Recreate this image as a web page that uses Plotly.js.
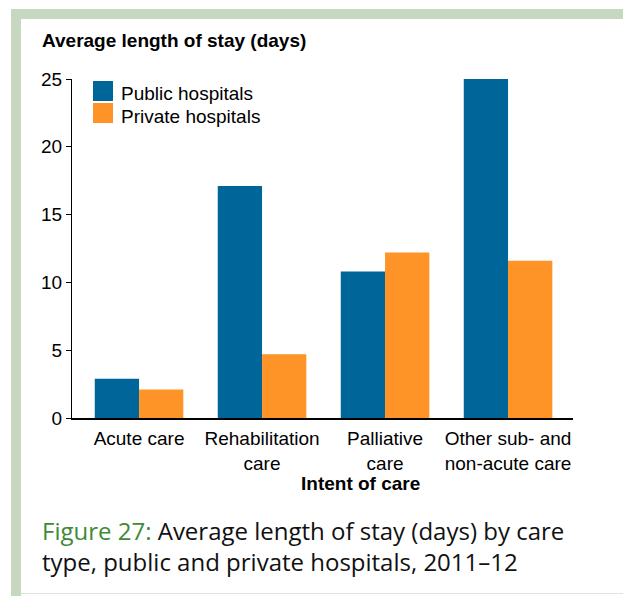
<!DOCTYPE html>
<html>
<head>
<meta charset="utf-8">
<script src="https://cdn.plot.ly/plotly-3.0.1.min.js"></script>
<style>
  html, body { margin: 0; padding: 0; background: #ffffff; }
  #wrap { position: relative; width: 623px; height: 596px; overflow: hidden; background: #ffffff; }
  .frame { position: absolute; background: #c6d8c0; }
  #chart { position: absolute; left: 0; top: 0; width: 623px; height: 596px; }
</style>
</head>
<body>
<div id="wrap">
  <div class="frame" style="left:11px; top:9px; width:612px; height:10px;"></div>
  <div class="frame" style="left:11px; top:9px; width:10px; height:587px;"></div>
  <div class="frame" style="left:21px; top:593px; width:602px; height:1px; background:#dbe6d7;"></div>
  <div id="chart"></div>
</div>
<script>
// ---- Data ----
const categories = ["Acute care", "Rehabilitation<br>care", "Palliative<br>care", "Other sub- and<br>non-acute care"];
const publicValues = [2.9, 17.1, 10.8, 25.0];
const privateValues = [2.1, 4.7, 12.2, 11.6];
const seriesNames = ["Public hospitals", "Private hospitals"];
const yTickValues = [0, 5, 10, 15, 20, 25];
const yAxisTitle = "Average length of stay (days)";
const xAxisTitle = "Intent of care";
const captionLead = "Figure 27:";
const captionLine1 = " Average length of stay (days) by care";
const captionLine2 = "type, public and private hospitals, 2011–12";

// ---- Styling ----
const W = 623, H = 596;
const M = { l: 72, r: 50, t: 79, b: 178 };
const plotW = W - M.l - M.r, plotH = H - M.t - M.b;
const px = x => (x - M.l) / plotW;
const py = y => (H - M.b - y) / plotH;
const colors = ["#006598", "#fe9428"];
const FONT = "Liberation Sans, Arial, sans-serif";
const CAPFONT = "Open Sans, Noto Sans, sans-serif";
const FS = 19;

const traces = [
  { type: "bar", name: seriesNames[0], x: categories, y: publicValues,
    marker: { color: colors[0], line: { width: 0 } }, hoverinfo: "y" },
  { type: "bar", name: seriesNames[1], x: categories, y: privateValues,
    marker: { color: colors[1], line: { width: 0 } }, hoverinfo: "y" }
];

const shapes = [];
const annotations = [];
// legend squares
seriesNames.forEach((n, i) => {
  const top = 81 + i * 22;
  shapes.push({ type: "rect", xref: "paper", yref: "paper",
    x0: px(93), x1: px(113), y0: py(top), y1: py(top + 20),
    fillcolor: colors[i], line: { width: 0 }, layer: "above" });
  annotations.push({ xref: "paper", yref: "paper", x: px(119), y: py(top + 13),
    xanchor: "left", yanchor: "middle", showarrow: false, text: n,
    font: { family: FONT, size: FS, color: "#000" } });
});
annotations.push({ xref: "paper", yref: "paper", x: px(40), y: py(41),
  xanchor: "left", yanchor: "middle", showarrow: false,
  text: "<b>" + yAxisTitle + "</b>", font: { family: FONT, size: FS, color: "#000" } });
annotations.push({ xref: "paper", yref: "paper", x: px(360), y: py(483),
  xanchor: "center", yanchor: "middle", showarrow: false,
  text: "<b>" + xAxisTitle + "</b>", font: { family: FONT, size: FS, color: "#000" } });
annotations.push({ xref: "paper", yref: "paper", x: px(40), y: py(546),
  xanchor: "left", yanchor: "middle", align: "left", showarrow: false,
  text: '<span style="color:#3e8a38">' + captionLead + '</span>' + captionLine1 + '<br>' + captionLine2,
  font: { family: CAPFONT, size: 24, color: "#111" } });

const layout = {
  width: W, height: H,
  margin: M,
  paper_bgcolor: "rgba(0,0,0,0)",
  plot_bgcolor: "rgba(0,0,0,0)",
  showlegend: false,
  barmode: "group",
  bargap: 0.28,
  bargroupgap: 0,
  font: { family: FONT, size: FS, color: "#000" },
  xaxis: {
    type: "category",
    range: [-0.545, 3.528],
    showline: true, linecolor: "#000", linewidth: 1.5,
    ticks: "", showgrid: false, zeroline: false,
    ticklabelstandoff: 3,
    tickfont: { family: FONT, size: FS, color: "#000" },
    fixedrange: true
  },
  yaxis: {
    range: [0, 25],
    tickvals: yTickValues,
    ticktext: yTickValues.map(String),
    showline: true, linecolor: "#000", linewidth: 1,
    ticks: "outside", ticklen: 5, tickcolor: "#000", tickwidth: 1,
    showgrid: false, zeroline: false,
    tickfont: { family: FONT, size: FS, color: "#000" },
    fixedrange: true
  },
  shapes: shapes,
  annotations: annotations
};

Plotly.newPlot("chart", traces, layout, { displayModeBar: false, staticPlot: true });
</script>
</body>
</html>
